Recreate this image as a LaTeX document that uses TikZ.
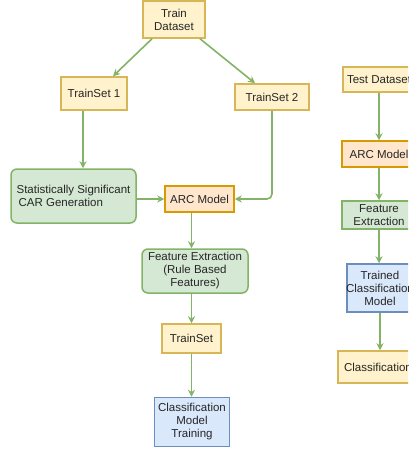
\documentclass[tikz,border=0pt]{standalone}
\usepackage{fontspec}
\setmainfont{Liberation Sans}
\usetikzlibrary{arrows.meta,calc}
\definecolor{yfill}{HTML}{FFF2CC}
\definecolor{ydraw}{HTML}{D6B656}
\definecolor{gfill}{HTML}{D5E8D4}
\definecolor{gdraw}{HTML}{82B366}
\definecolor{bfill}{HTML}{DAE8FC}
\definecolor{bdraw}{HTML}{6C8EBF}
\definecolor{ofill}{HTML}{FFE6CC}
\definecolor{odraw}{HTML}{D79B00}
\begin{document}
\begin{tikzpicture}[x=1pt,y=-1pt,
  font=\fontsize{11.5}{13}\selectfont,
  box/.style={draw, line width=1.5pt, inner sep=0pt, align=center, text=black!85},
  ybox/.style={box, fill=yfill, draw=ydraw},
  gbox/.style={box, fill=gfill, draw=gdraw},
  bbox/.style={box, fill=bfill, draw=bdraw},
  obox/.style={box, fill=ofill, draw=odraw},
  arr/.style={draw=gdraw, line width=1.6pt, -{Stealth[length=7pt,width=7pt]}}]
\useasboundingbox (0,0) rectangle (408,452);
\clip (0,0) rectangle (408,452);
% left branch
\node[ybox, minimum width=62pt, minimum height=37pt] (td) at (174,19.5) {Train\\Dataset};
\node[ybox, minimum width=66pt, minimum height=33pt] (ts1) at (94,93.5) {TrainSet 1};
\node[ybox, minimum width=74pt, minimum height=26pt] (ts2) at (272,97) {TrainSet 2};
\node[gbox, rounded corners=6pt, minimum width=125pt, minimum height=54pt, align=left] (car) at (73.5,196) {Statistically Significant\\\hspace{2pt}CAR Generation};
\node[obox, minimum width=69pt, minimum height=26pt] (arc) at (199.5,199) {ARC Model};
\node[gbox, rounded corners=6pt, minimum width=106pt, minimum height=44pt] (fe) at (195,271) {Feature Extraction\\(Rule Based\\Features)};
\node[ybox, minimum width=59pt, minimum height=29pt] (tset) at (191.5,338.5) {TrainSet};
\node[bbox, minimum width=75pt, minimum height=49pt] (cmt) at (192,422) {Classification\\Model\\Training};
% right branch
\node[ybox, minimum width=72pt, minimum height=25pt] (testd) at (379,79.5) {Test Dataset};
\node[obox, minimum width=74pt, minimum height=26pt] (arcr) at (379,154) {ARC Model};
\node[gbox, minimum width=74pt, minimum height=28pt] (fer) at (379,215) {Feature\\Extraction};
\node[bbox, minimum width=66pt, minimum height=48pt] (tcm) at (380,288) {Trained\\\makebox[0pt]{Classification}\\Model};
\node[ybox, minimum width=80pt, minimum height=32pt] (cls) at (378,367) {Classification};
% connectors
\draw[arr] ([xshift=-22pt]td.south) -- ([xshift=19pt]ts1.north);
\draw[arr] ([xshift=26pt]td.south) -- ([xshift=-17pt]ts2.north);
\draw[arr] ([xshift=-11pt]ts1.south) -- ([xshift=-11pt]ts1.south |- car.north);
\draw[arr] (car.east |- arc) -- (arc.west);
\draw[arr, rounded corners=5pt] (ts2.south) |- (arc.east);
\draw[arr] (arc.south -| tset) -- (fe.north -| tset);
\draw[arr] (fe.south -| tset) -- (tset.north);
\draw[arr] (tset.south) -- (tset.south |- cmt.north);
\draw[arr] (testd) -- (arcr);
\draw[arr] (arcr) -- (fer);
\draw[arr] (fer.south) -- (fer.south |- tcm.north);
\draw[arr] (tcm.south) -- (tcm.south |- cls.north);
\end{tikzpicture}
\end{document}
